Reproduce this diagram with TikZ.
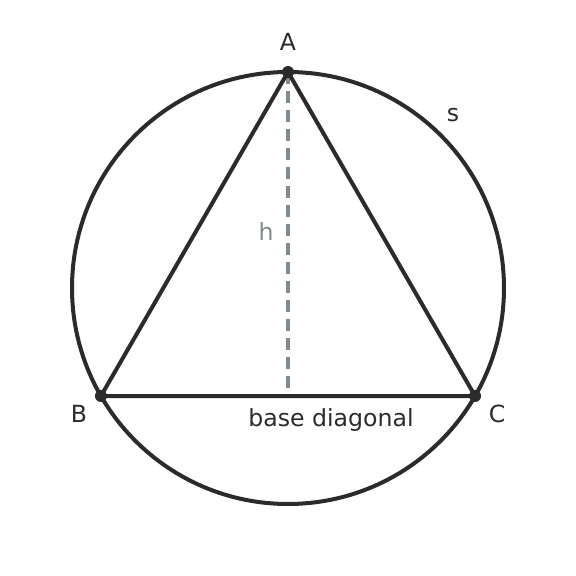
\documentclass[tikz,border=0pt]{standalone}
\usepackage{fontspec}
\setmainfont{DejaVu Sans}
\definecolor{ink}{HTML}{2B2B2B}
\definecolor{hgray}{HTML}{7F8C8D}
\begin{document}
\begin{tikzpicture}[x=1pt,y=-1pt,
  edge/.style={draw=ink,line width=4pt,line join=round},
  hline/.style={draw=hgray,line width=4pt,dash pattern=on 12pt off 7pt},
  vdot/.style={circle,fill=ink,inner sep=0pt,minimum size=12pt},
  lbl/.style={text=ink,font=\fontsize{23.6}{27}\selectfont,inner sep=0pt},
  glbl/.style={text=hgray,font=\fontsize{23.6}{27}\selectfont,inner sep=0pt}]
\useasboundingbox (0,0) rectangle (576,576);
\coordinate (O) at (288,288);
\coordinate (A) at (288,72);
\coordinate (B) at (100.94,396);
\coordinate (C) at (475.06,396);
\coordinate (M) at (288,396);
\draw[edge] (O) circle[radius=216pt];
\draw[hline] (A) -- (M);
\draw[edge] (A) -- (B) -- (C) -- cycle;
\node[vdot] (dA) at (A) {};
\node[vdot] (dB) at (B) {};
\node[vdot] (dC) at (C) {};
\node[lbl] (lA) at (288,42) {A};
\node[lbl] (lB) at (79,414) {B};
\node[lbl] (lC) at (497,414) {C};
\node[lbl] (ls) at (453,115) {s};
\node[glbl] (lh) at (266,232) {h};
\node[lbl] (lbase) at (331,420) {base diagonal};
\end{tikzpicture}
\end{document}
